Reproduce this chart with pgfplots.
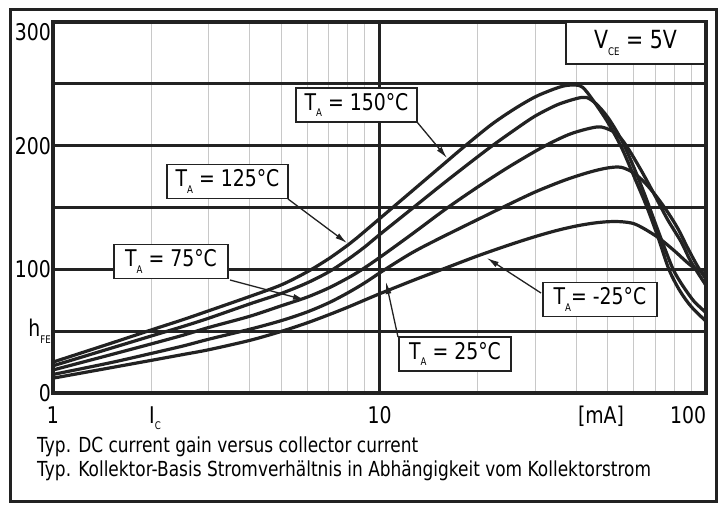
\documentclass[border=0pt]{standalone}
\usepackage{fontspec}
\setmainfont{DejaVu Sans}[FakeStretch=0.82]
\usepackage{pgfplots}
\pgfplotsset{compat=1.18}
\usetikzlibrary{arrows.meta}
\definecolor{ink}{HTML}{222222}
\definecolor{gridgray}{HTML}{C8C8C8}
\newcommand{\sub}[1]{\raisebox{-0.3em}{\fontsize{10.5}{10.5}\selectfont #1}}
\newcommand{\TA}{T\sub{A}}

\pgfplotstableread{
I h
1 25
1.5 40.1
2 51
2.5 59.3
3 66.5
4 78
5 87.4
6 97.9
7 108.7
8 119.6
8.5 125.1
10 140.9
12 158.7
15 180.5
18 198.3
22 217
26 230
30 239.5
34 245.5
37 248.5
40 249
42 247
45 237
50 219
55 199
60 176
66 150
71.5 125
77 100
83 83
90 70
100 58
}\tblA

\pgfplotstableread{
I h
1 22
1.5 36.1
2 46.1
2.5 53.8
3 60.5
4 72
5 80.5
6 89
7 98
8 108
9 118
10 128
12.5 148.5
16 171.2
21.4 197
26 213
30 224
35 233
40 238
43 239
46 234
50 223
55 205
60 183
65 160
70 137
75 116
79 101
82 93
86 84.5
92 74
100 65
}\tblB

\pgfplotstableread{
I h
1 18.6
1.5 30.9
2 39.7
2.5 46.7
3 53
4 62
5 70.5
6 77.5
7 85
8 93
8.8 99.5
10 109.5
12.5 128
16 149
20 166.6
25 183.1
31.8 199.2
38 209
44 214
48 215
53 210
57 200
63 181
69 162
76 141
84 122
90 106
100 87
}\tblC

\pgfplotstableread{
I h
1 15
1.5 24.5
2 32
2.5 38
3 43.5
4 51.5
5 58.5
6 65.5
7 73
8 81
9 89
10.2 98.5
12.5 113
15 124
20 140.3
24 150.5
30 162.6
37 172.2
44 178.6
50 182
55 182.5
60 178
65 170
70 160
76 147
82 133
88 117
94 103
100 92
}\tblD

\pgfplotstableread{
I h
1 12
1.5 20.4
2 26.4
2.5 31.1
3 35
4 42.5
5 49.8
6 56.7
7 63.3
8 69.4
10 80.2
13 92.2
16 101.2
20 110.9
25 119.8
30 126.5
35 131.5
40 135
45 137.3
50 138.5
55 138.5
60 137
65 132.5
72 125
80 115
90 103
100 96
}\tblE

\begin{document}
\begin{tikzpicture}
\useasboundingbox (-53pt,-111pt) rectangle (666pt,393pt);
\fill[white] (-53pt,-111pt) rectangle (666pt,393pt);
\begin{axis}[
  at={(0pt,0pt)}, anchor=south west,
  scale only axis, width=653pt, height=371pt,
  xmode=log, log basis x=10,
  xmin=1, xmax=100, ymin=0, ymax=300,
  xtick={1,10,100}, xticklabels={1,10,\llap{100}},
  minor xtick={2,3,4,5,6,7,8,9,20,30,40,50,60,70,80,90},
  ytick={0,50,100,150,200,250,300},
  yticklabels={0,h\sub{FE},100,,200,,\smash{\raisebox{-19pt}{300}}},
  xmajorgrids, ymajorgrids, xminorgrids,
  major grid style={line width=3pt, color=ink},
  minor grid style={line width=0.9pt, color=gridgray},
  major tick length=0pt, minor tick length=0pt,
  axis line style={line width=3.5pt, color=ink},
  tick label style={font=\fontsize{23}{23}\selectfont},
  /pgf/number format/assume math mode=true,
  xticklabel style={anchor=base, yshift=-30pt, inner sep=0pt},
  yticklabel style={anchor=east, inner sep=0pt, xshift=-2pt},
  curve/.style={line width=3.2pt, color=ink, no marks, smooth, tension=0.5},
]
\addplot[curve] table[x=I,y=h]{\tblA};
\addplot[curve] table[x=I,y=h]{\tblB};
\addplot[curve] table[x=I,y=h]{\tblC};
\addplot[curve] table[x=I,y=h]{\tblD};
\addplot[curve] table[x=I,y=h]{\tblE};
\end{axis}

% V_CE box
\node[draw=ink, line width=1.3pt, fill=white, minimum width=139pt, minimum height=42pt, inner sep=0pt, font=\fontsize{25}{25}\selectfont] at (582.5pt,350pt) {V\sub{CE} = 5V};

% annotation boxes
\tikzset{lbl/.style={draw=ink, line width=1.3pt, fill=white, minimum height=34pt, inner sep=0pt, font=\fontsize{23}{23}\selectfont},
         arr/.style={line width=1.3pt, color=ink, -{Latex[length=12pt,width=6pt]}}}
\draw[arr] (364pt,271pt) -- (394pt,235pt);
\draw[arr] (235pt,194pt) -- (294pt,150pt);
\draw[arr] (177pt,113pt) -- (252pt,93pt);
\draw[arr] (345pt,56pt) -- (333pt,111pt);
\draw[arr] (488pt,100pt) -- (434pt,135pt);
\node[lbl, minimum width=121pt] at (303.5pt,288pt) {\TA{} = 150°C};
\node[lbl, minimum width=121pt] at (174.5pt,211.5pt) {\TA{} = 125°C};
\node[lbl, minimum width=114pt] at (118pt,131.5pt) {\TA{} = 75°C};
\node[lbl, minimum width=112pt] at (402pt,39pt) {\TA{} = 25°C};
\node[lbl, minimum width=114pt] at (547pt,93.5pt) {\TA{}= -25°C};

% axis annotations
\node[anchor=base, inner sep=0pt, font=\fontsize{23}{23}\selectfont] at (102pt,-30pt) {I\sub{C}};
\node[anchor=base, inner sep=0pt, font=\fontsize{23}{23}\selectfont] at (548pt,-30pt) {[mA]};

% captions
\node[anchor=base west, inner sep=0pt, font=\fontsize{20.7}{20.7}\selectfont] at (-16pt,-59pt) {Typ. DC current gain versus collector current};
\node[anchor=base west, inner sep=0pt, font=\fontsize{20.7}{20.7}\selectfont] at (-16pt,-83pt) {Typ. Kollektor-Basis Stromverhältnis in Abhängigkeit vom Kollektorstrom};

% outer frame
\draw[line width=3pt, color=ink] (-42.5pt,-108.5pt) rectangle (663.5pt,383.5pt);
\end{tikzpicture}
\end{document}
